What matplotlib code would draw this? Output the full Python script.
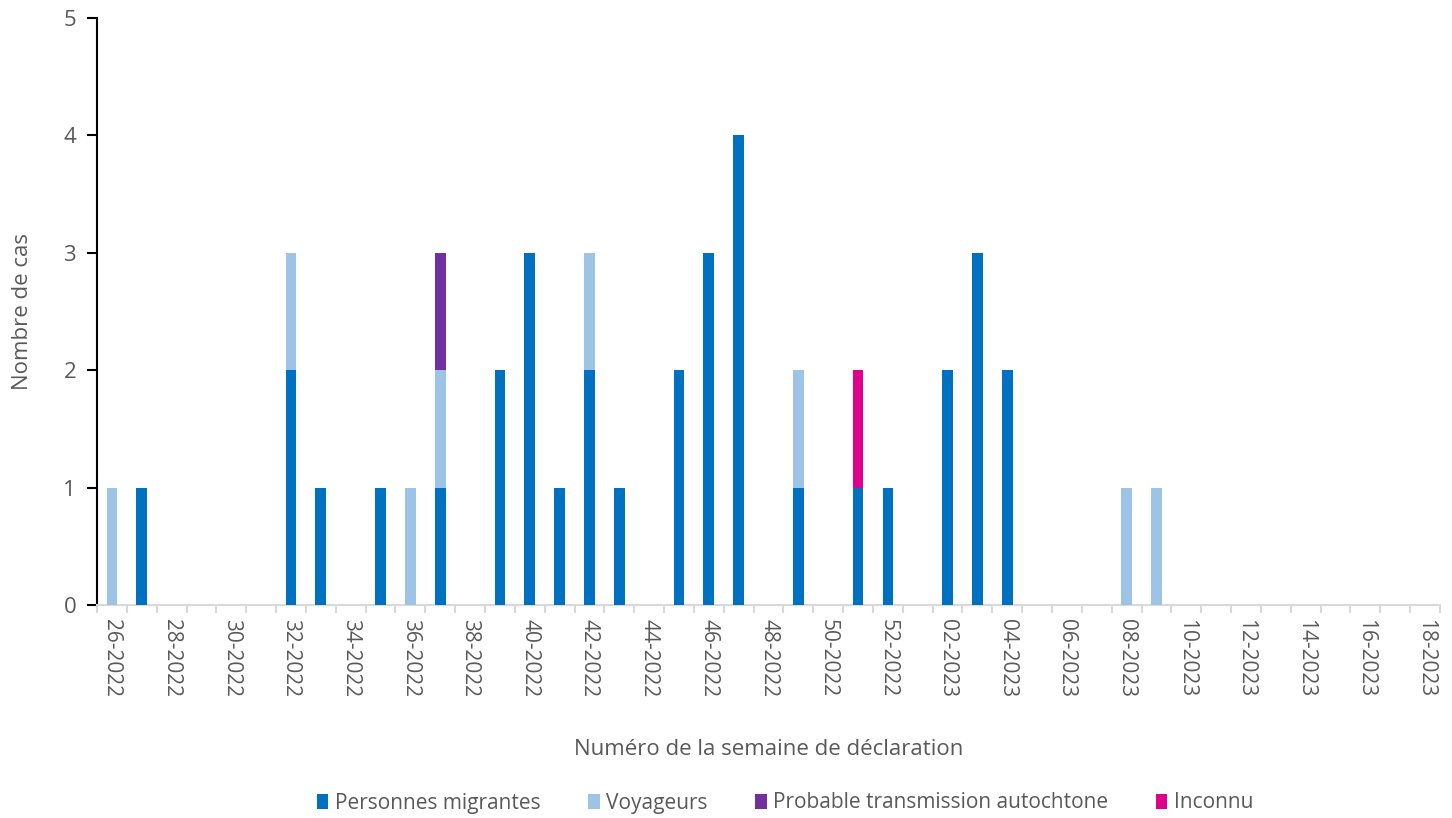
#!/usr/bin/env python3
"""Cas par semaine de déclaration, barres empilées par origine."""

import matplotlib.pyplot as plt
import numpy as np

plt.rcParams["font.family"] = ["Open Sans", "DejaVu Sans"]

weeks = [f"{w:02d}-2022" for w in range(26, 53)] + [f"{w:02d}-2023" for w in range(1, 19)]

# one value per week, 26-2022 .. 18-2023
migrants = [0, 1, 0, 0, 0, 0, 2, 1, 0, 1, 0, 1, 0, 2, 3, 1, 2, 1, 0, 2, 3, 4, 0, 1, 0, 1, 1,
            0, 2, 3, 2, 0, 0, 0, 0, 0, 0, 0, 0, 0, 0, 0, 0, 0, 0]
voyageurs = [1, 0, 0, 0, 0, 0, 1, 0, 0, 0, 1, 1, 0, 0, 0, 0, 1, 0, 0, 0, 0, 0, 0, 1, 0, 0, 0,
             0, 0, 0, 0, 0, 0, 0, 1, 1, 0, 0, 0, 0, 0, 0, 0, 0, 0]
autochtone = [0] * 11 + [1] + [0] * 33
inconnu = [0] * 25 + [1] + [0] * 19

SERIES = [
    ("Personnes migrantes", migrants, "#0070C0"),
    ("Voyageurs", voyageurs, "#9DC3E6"),
    ("Probable transmission autochtone", autochtone, "#7030A0"),
    ("Inconnu", inconnu, "#E0008C"),
]
TEXT = "#595959"


def main():
    fig = plt.figure(figsize=(14.52, 8.18), dpi=100)
    ax = fig.add_axes([97 / 1452, 1 - 605 / 818, (1440 - 97) / 1452, (605 - 18) / 818])

    x = np.arange(len(weeks))
    bottom = np.zeros(len(weeks))
    for label, values, color in SERIES:
        vals = np.array(values, dtype=float)
        ax.bar(x, vals, width=0.36, bottom=bottom, color=color, label=label, zorder=3)
        bottom += vals

    ax.set_xlim(-0.5, len(weeks) - 0.5)
    ax.set_ylim(0, 5)
    ax.set_yticks(range(6))
    ax.tick_params(axis="y", labelsize=16, labelcolor=TEXT, color="black", length=7, width=1.5,
                   pad=8)

    ax.set_xticks(x[::2])
    ax.set_xticklabels(weeks[::2], rotation=270, fontsize=15, color=TEXT)
    ax.set_xticks(np.arange(-0.5, len(weeks), 1), minor=True)
    ax.tick_params(axis="x", which="major", length=0, pad=10)
    ax.tick_params(axis="x", which="minor", length=6, color="#d9d9d9", width=1.5)

    for side in ("top", "right"):
        ax.spines[side].set_visible(False)
    ax.spines["left"].set_color("black")
    ax.spines["left"].set_linewidth(1.5)
    ax.spines["bottom"].set_color("#d9d9d9")
    ax.spines["bottom"].set_linewidth(1.5)

    ax.set_ylabel("Nombre de cas", fontsize=16, color=TEXT, labelpad=22)
    ax.set_xlabel("Numéro de la semaine de déclaration", fontsize=16, color=TEXT, labelpad=30)

    fig.legend(loc="center", bbox_to_anchor=(785 / 1452, 1 - 803 / 818), ncol=4, frameon=False,
               fontsize=15, handlelength=0.55, handleheight=0.7, handletextpad=0.3,
               columnspacing=2.3, labelcolor=TEXT)

    fig.savefig("out.png", dpi=100, facecolor="white")
    plt.close(fig)


if __name__ == "__main__":
    main()
